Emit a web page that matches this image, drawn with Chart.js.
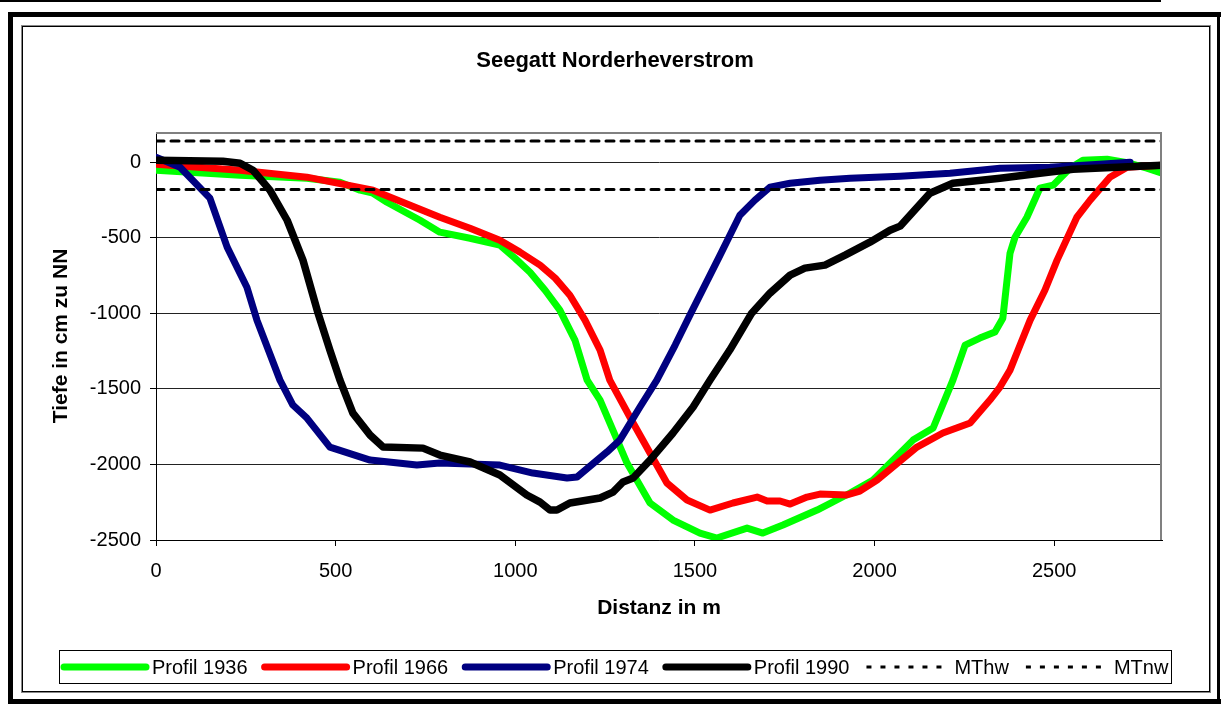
<!DOCTYPE html>
<html>
<head>
<meta charset="utf-8">
<title>Seegatt Norderheverstrom</title>
<script src="https://cdn.jsdelivr.net/npm/chart.js@4.4.0/dist/chart.umd.min.js"></script>
<style>
  html, body { margin: 0; padding: 0; background: #fff; }
  canvas { display: block; }
</style>
</head>
<body>
<canvas id="profile-chart" width="1221" height="704"></canvas>
<script>
// Chart text
const chartTitle = 'Seegatt Norderheverstrom';
const xTitle = 'Distanz in m';
const yTitle = 'Tiefe in cm zu NN';

// Axis ticks
const xTicks = [0, 500, 1000, 1500, 2000, 2500];
const yTicks = [-2500, -2000, -1500, -1000, -500, 0];

// Profil 1936 (distance m / depth cm)
const dist1936 = [0, 234, 420, 512, 568, 604, 643, 735, 790, 874, 957, 999, 1041, 1083, 1124, 1166, 1200, 1236, 1311, 1375, 1439, 1514, 1561, 1645, 1689, 1745, 1840, 1932, 1996, 2107, 2163, 2218, 2252, 2293, 2335, 2357, 2377, 2391, 2424, 2460, 2497, 2544, 2580, 2647, 2711, 2758, 2800];
const depth1936 = [-53, -86, -106, -132, -185, -205, -265, -384, -463, -503, -549, -635, -728, -847, -979, -1177, -1442, -1574, -1991, -2255, -2368, -2454, -2487, -2421, -2454, -2401, -2302, -2189, -2103, -1839, -1759, -1442, -1210, -1164, -1124, -1032, -602, -496, -364, -172, -152, -40, 13, 20, -7, -40, -73];

// Profil 1966
const dist1966 = [0, 234, 420, 604, 790, 874, 957, 1013, 1069, 1111, 1152, 1194, 1236, 1263, 1328, 1422, 1478, 1542, 1606, 1673, 1701, 1737, 1765, 1812, 1848, 1923, 1959, 2007, 2118, 2190, 2266, 2321, 2349, 2377, 2405, 2433, 2474, 2508, 2563, 2600, 2655, 2703, 2800];
const depth1966 = [-13, -53, -99, -185, -364, -437, -516, -595, -681, -767, -880, -1045, -1243, -1442, -1726, -2123, -2235, -2302, -2255, -2216, -2242, -2242, -2262, -2216, -2196, -2202, -2176, -2103, -1885, -1792, -1726, -1574, -1488, -1376, -1210, -1045, -847, -648, -364, -251, -99, -33, -20];

// Profil 1974
const dist1974 = [0, 67, 150, 198, 253, 281, 345, 381, 420, 484, 596, 726, 790, 957, 1049, 1144, 1172, 1255, 1291, 1347, 1394, 1445, 1486, 1528, 1570, 1625, 1667, 1709, 1765, 1848, 1932, 2071, 2210, 2349, 2488, 2627, 2711];
const depth1974 = [33, -33, -238, -562, -827, -1045, -1442, -1607, -1693, -1885, -1971, -2004, -1991, -2004, -2057, -2090, -2083, -1918, -1839, -1620, -1442, -1210, -1012, -813, -615, -351, -251, -165, -139, -119, -106, -93, -73, -40, -33, -13, 0];

// Profil 1990
const dist1990 = [0, 186, 234, 270, 317, 365, 409, 451, 484, 512, 548, 596, 632, 743, 790, 874, 957, 1032, 1069, 1097, 1116, 1152, 1236, 1272, 1300, 1328, 1375, 1439, 1495, 1542, 1597, 1658, 1709, 1765, 1806, 1862, 1918, 1987, 2043, 2071, 2154, 2218, 2349, 2460, 2552, 2675, 2800];
const depth1990 = [13, 7, -7, -53, -185, -384, -648, -999, -1243, -1442, -1660, -1806, -1885, -1892, -1938, -1984, -2070, -2202, -2249, -2302, -2302, -2255, -2222, -2183, -2116, -2090, -1971, -1792, -1620, -1442, -1243, -999, -866, -747, -701, -681, -615, -529, -450, -423, -205, -139, -106, -73, -46, -33, -20];

// Tide levels (mean high / low water)
const tideRange = [0, 2800];
const mthw = [140, 140];
const mtnw = [-180, -180];

const FONT = '"Liberation Sans", Arial, sans-serif';

// Pair two arrays into {x, y} points
function toPoints(xs, ys) {
  return xs.map((x, i) => ({ x: x, y: ys[i] }));
}

// Frame, title, plot border and legend drawn around the chart
const decor = {
  id: 'decor',
  beforeDraw(chart) {
    const ctx = chart.ctx;
    ctx.save();
    ctx.fillStyle = '#fff';
    ctx.fillRect(0, 0, chart.width, chart.height);
    ctx.fillStyle = '#000';
    ctx.fillRect(0, 0, 1161, 2);        // thin rule on top
    ctx.fillRect(8, 12, 1213, 5);       // heavy frame
    ctx.fillRect(8, 12, 5, 692);
    ctx.fillRect(8, 699, 1213, 5);
    ctx.fillRect(1217, 12, 3, 692);
    ctx.strokeStyle = '#888';
    ctx.lineWidth = 1;
    ctx.strokeRect(21.5, 25.5, 1189, 667);
    ctx.strokeStyle = '#000';
    ctx.strokeRect(22.5, 26.5, 1187, 665);
    ctx.restore();
  },
  afterDatasetsDraw(chart) {
    const ctx = chart.ctx;
    const a = chart.chartArea;
    ctx.save();
    ctx.fillStyle = '#808080';
    ctx.fillRect(a.left, a.top, a.right - a.left, 2);
    ctx.fillRect(a.right - 2, a.top, 2, a.bottom - a.top);
    ctx.restore();
  },
  afterDraw(chart) {
    const ctx = chart.ctx;
    ctx.save();
    ctx.fillStyle = '#000';
    ctx.font = 'bold 22px ' + FONT;
    ctx.textAlign = 'center';
    ctx.textBaseline = 'middle';
    ctx.fillText(chartTitle, 615, 61);

    // legend
    ctx.strokeStyle = '#000';
    ctx.lineWidth = 1;
    ctx.strokeRect(59.5, 650.5, 1112, 33);
    ctx.font = '20px ' + FONT;
    ctx.textAlign = 'left';
    let x = 61;
    const y = 667;
    chart.data.datasets.forEach(ds => {
      const dashed = !!ds.borderDash;
      ctx.save();
      ctx.strokeStyle = ds.borderColor;
      ctx.lineWidth = dashed ? 3 : 7;
      ctx.lineCap = dashed ? 'butt' : 'round';
      ctx.setLineDash(dashed ? [5, 9] : []);
      ctx.beginPath();
      ctx.moveTo(x + 3, y);
      ctx.lineTo(x + 85, y);
      ctx.stroke();
      ctx.restore();
      ctx.fillText(ds.label, x + 91, y + 1);
      x += 91 + ctx.measureText(ds.label).width + 14;
    });
    ctx.restore();
  }
};

const ctx = document.getElementById('profile-chart').getContext('2d');

const chart = new Chart(ctx, {
  type: 'line',
  data: {
    datasets: [
      { label: 'Profil 1936', data: toPoints(dist1936, depth1936), borderColor: '#00ff00', borderWidth: 7, order: 4 },
      { label: 'Profil 1966', data: toPoints(dist1966, depth1966), borderColor: '#ff0000', borderWidth: 7, order: 3 },
      { label: 'Profil 1974', data: toPoints(dist1974, depth1974), borderColor: '#000080', borderWidth: 7, order: 2 },
      { label: 'Profil 1990', data: toPoints(dist1990, depth1990), borderColor: '#000000', borderWidth: 7.5, order: 1 },
      { label: 'MThw', data: toPoints(tideRange, mthw), borderColor: '#000000', borderWidth: 3, borderDash: [8, 7], order: 0 },
      { label: 'MTnw', data: toPoints(tideRange, mtnw), borderColor: '#000000', borderWidth: 3, borderDash: [8, 7], order: 0 }
    ]
  },
  options: {
    responsive: false,
    maintainAspectRatio: false,
    animation: false,
    clip: 0,
    layout: { padding: { left: 0, right: 59, top: 132, bottom: 64 } },
    elements: {
      point: { radius: 0 },
      line: { tension: 0, borderJoinStyle: 'round', borderCapStyle: 'round', fill: false }
    },
    plugins: {
      legend: { display: false },
      title: { display: false },
      tooltip: { enabled: false }
    },
    scales: {
      x: {
        type: 'linear',
        min: 0,
        max: 2800,
        afterFit(scale) { scale.height = 100; },
        afterBuildTicks(scale) { scale.ticks = xTicks.map(v => ({ value: v })); },
        grid: { drawOnChartArea: false, drawTicks: true, tickLength: 6, color: '#000' },
        border: { display: true, color: '#000', width: 1 },
        ticks: { color: '#000', padding: 13, maxRotation: 0, font: { family: FONT, size: 20 }, callback: v => String(v) },
        title: { display: true, text: xTitle, color: '#000', padding: { top: 0, bottom: 19 }, font: { family: FONT, size: 21, weight: 'bold' } }
      },
      y: {
        type: 'linear',
        min: -2500,
        max: 200,
        afterFit(scale) { scale.width = 156; },
        afterBuildTicks(scale) { scale.ticks = yTicks.map(v => ({ value: v })); },
        grid: { color: '#222', lineWidth: 1, drawTicks: true, tickLength: 6, tickColor: '#000' },
        border: { display: true, color: '#000', width: 1 },
        ticks: { color: '#000', padding: 9, font: { family: FONT, size: 20 }, callback: v => String(v) },
        title: { display: true, text: yTitle, color: '#000', padding: { top: 49, bottom: 0 }, font: { family: FONT, size: 21, weight: 'bold' } }
      }
    }
  },
  plugins: [decor]
});
</script>
</body>
</html>
